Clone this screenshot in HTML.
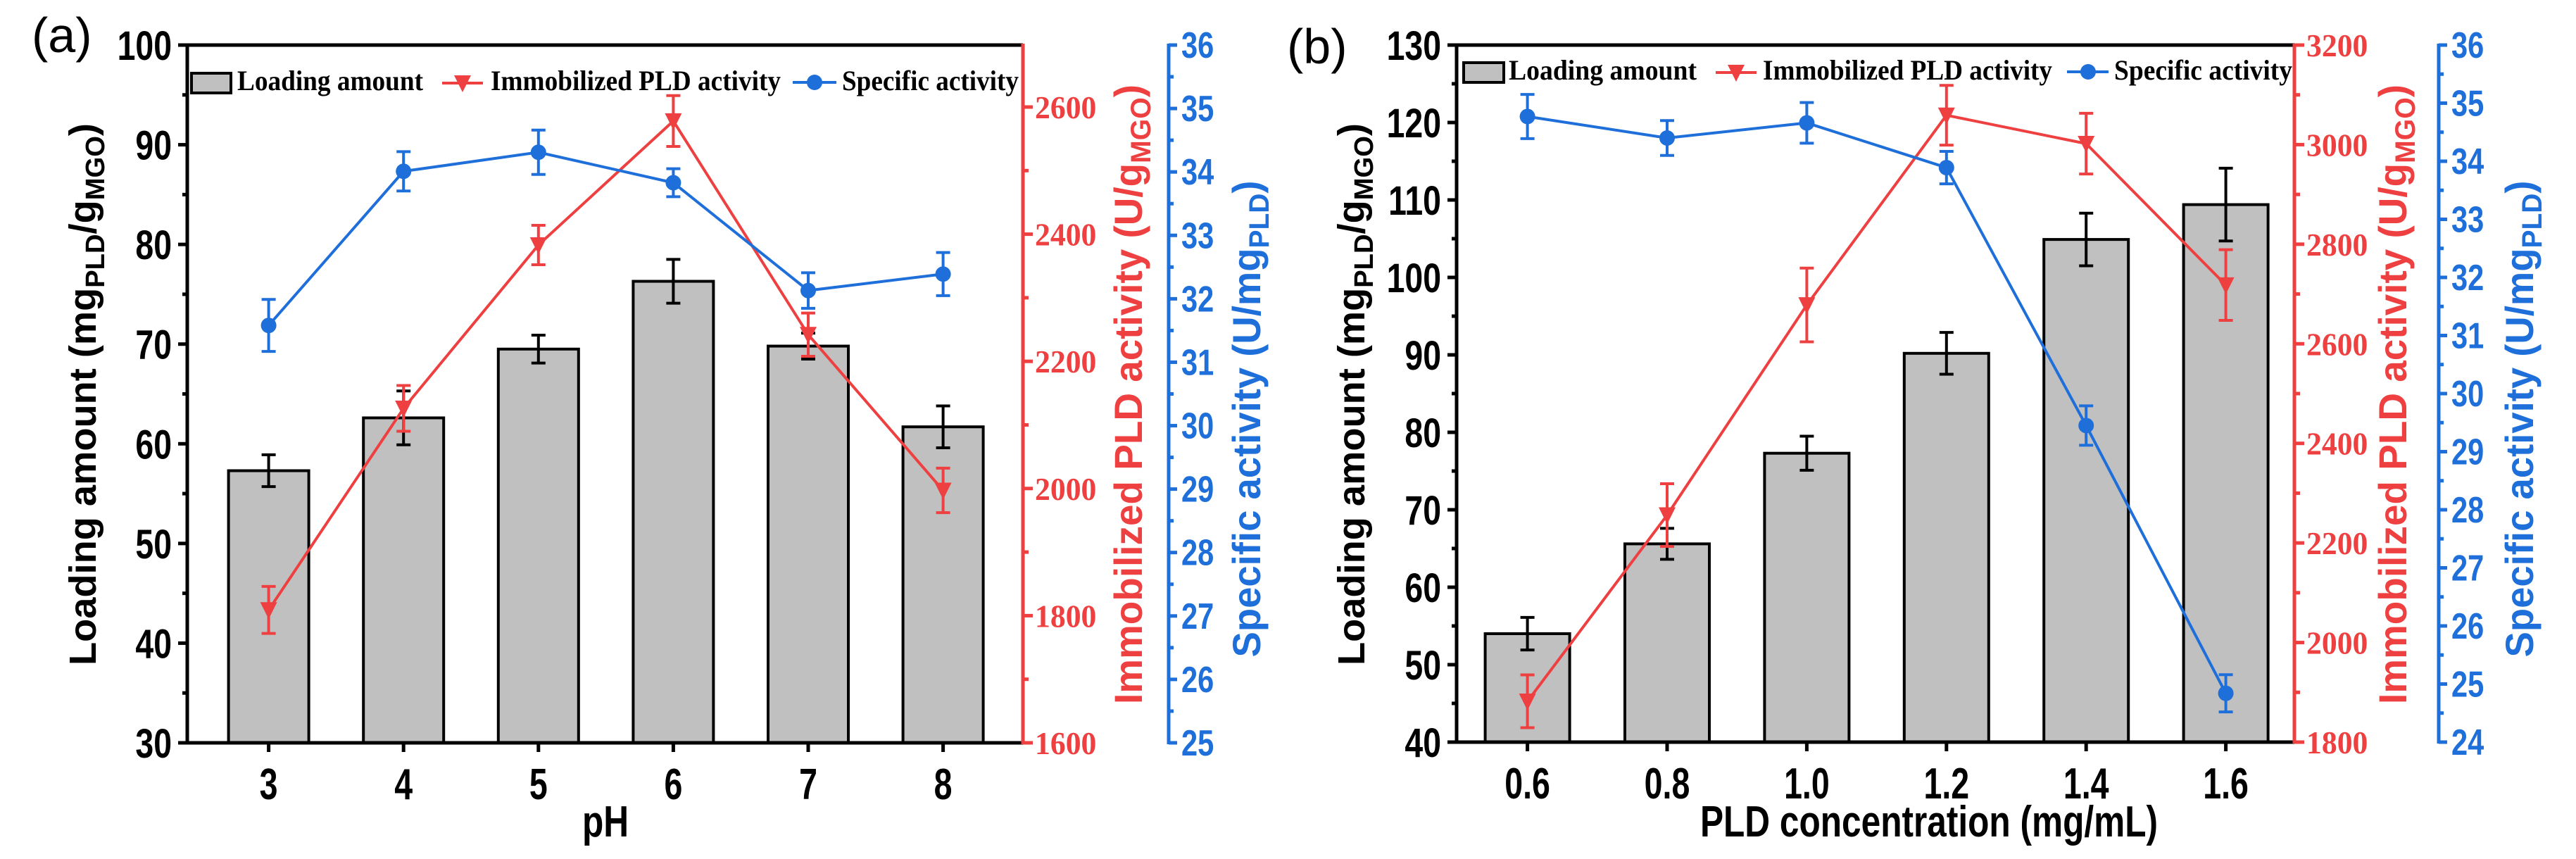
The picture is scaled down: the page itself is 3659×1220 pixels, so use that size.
<!DOCTYPE html>
<html><head><meta charset="utf-8"><style>
html,body{margin:0;padding:0;background:#fff;}
svg{display:block;}
</style></head><body>
<svg id="chart" xmlns="http://www.w3.org/2000/svg" width="3659" height="1220" viewBox="0 0 3659 1220"></svg>
<script>
// ---------- Panel (a) data ----------
const aCategories = ["3","4","5","6","7","8"];
const aLoading = [57.3, 62.6, 69.5, 76.3, 69.8, 61.7];
const aLoadingErr = [1.6, 2.7, 1.4, 2.2, 1.3, 2.1];
const aImmob = [1809, 2126, 2383, 2578, 2242, 1997];
const aImmobErr = [37, 36, 31, 40, 34, 35];
const aSpecific = [31.58, 34.01, 34.31, 33.83, 32.13, 32.39];
const aSpecificErr = [0.41, 0.31, 0.35, 0.22, 0.28, 0.34];
const aLeftTicks = [30,40,50,60,70,80,90,100];
const aRedTicks = [1600,1800,2000,2200,2400,2600];
const aBlueTicks = [25,26,27,28,29,30,31,32,33,34,35,36];
// ---------- Panel (b) data ----------
const bCategories = ["0.6","0.8","1.0","1.2","1.4","1.6"];
const bLoading = [54.0, 65.6, 77.3, 90.2, 104.9, 109.4];
const bLoadingErr = [2.1, 2.0, 2.2, 2.7, 3.4, 4.7];
const bImmob = [1882, 2256, 2678, 3059, 3002, 2718];
const bImmobErr = [53, 63, 74, 60, 61, 71];
const bSpecific = [34.77, 34.40, 34.66, 33.89, 29.45, 24.84];
const bSpecificErr = [0.38, 0.30, 0.35, 0.28, 0.34, 0.32];
const bLeftTicks = [40,50,60,70,80,90,100,110,120,130];
const bRedTicks = [1800,2000,2200,2400,2600,2800,3000,3200];
const bBlueTicks = [24,25,26,27,28,29,30,31,32,33,34,35,36];

const RED = "#EE4040", BLUE = "#1E6FD9";
const NS = "http://www.w3.org/2000/svg";
const svg = document.getElementById("chart");

function mk(tag, attrs, parent){
  const e = document.createElementNS(NS, tag);
  for (const k in attrs) e.setAttribute(k, attrs[k]);
  (parent||svg).appendChild(e);
  return e;
}
function ctext(parent, x, y, str, size, fill, family, anchor, sx){
  const g = mk("g", {transform:`translate(${x},${y}) scale(${sx},1)`}, parent);
  const t = mk("text", {x:0, y:0, "font-size":size, "font-weight":"bold", fill:fill, "font-family":family, "text-anchor":anchor}, g);
  t.textContent = str;
  return t;
}

function panel(cfg){
  const root = mk("g", {});
  
  
  const {L, R, B, T, blueX} = cfg;
  const yL = v => B - (v - cfg.leftMin)/(cfg.leftMax - cfg.leftMin)*(B - T);
  const yR = v => B - (v - cfg.redMin)/(cfg.redMax - cfg.redMin)*(B - cfg.redTop);
  const yB = v => B - (v - cfg.blueMin)/(cfg.blueMax - cfg.blueMin)*(B - T);
  const xC = i => cfg.x0 + i*cfg.dx;

  // bars
  const bars = mk("g", {}, root);
  
  
  cfg.loading.forEach((v,i)=>{
    const r = mk("rect", {x:xC(i)-cfg.bw/2, y:yL(v), width:cfg.bw, height:B-yL(v), fill:"#C0C0C0", stroke:"#000", "stroke-width":4}, bars);
    
    
    const e = cfg.loadingErr[i], x = xC(i);
    const eb = mk("path", {d:`M${x},${yL(v+e)}V${yL(v-e)}M${x-10},${yL(v+e)}H${x+10}M${x-10},${yL(v-e)}H${x+10}`, stroke:"#000", "stroke-width":4, fill:"none"}, bars);
    
    
  });

  // red series
  const red = mk("g", {}, root);
  
  
  const rl = mk("polyline", {points: cfg.immob.map((v,i)=>`${xC(i)},${yR(v)}`).join(" "), fill:"none", stroke:RED, "stroke-width":4}, red);
  
  
  cfg.immob.forEach((v,i)=>{
    const x = xC(i), e = cfg.immobErr[i];
    const eb = mk("path", {d:`M${x},${yR(v+e)}V${yR(v-e)}M${x-10},${yR(v+e)}H${x+10}M${x-10},${yR(v-e)}H${x+10}`, stroke:RED, "stroke-width":4, fill:"none"}, red);
    
    
    const y = yR(v);
    const m = mk("path", {d:`M${x-12},${y-11}L${x+12},${y-11}L${x},${y+13}Z`, fill:RED}, red);
    
    
  });

  // blue series
  const blue = mk("g", {}, root);
  
  
  const bl = mk("polyline", {points: cfg.spec.map((v,i)=>`${xC(i)},${yB(v)}`).join(" "), fill:"none", stroke:BLUE, "stroke-width":4}, blue);
  
  
  cfg.spec.forEach((v,i)=>{
    const x = xC(i), e = cfg.specErr[i];
    const eb = mk("path", {d:`M${x},${yB(v+e)}V${yB(v-e)}M${x-10},${yB(v+e)}H${x+10}M${x-10},${yB(v-e)}H${x+10}`, stroke:BLUE, "stroke-width":4, fill:"none"}, blue);
    
    
    const c = mk("circle", {cx:x, cy:yB(v), r:11, fill:BLUE}, blue);
    
    
  });

  // axes frame
  const ax = mk("g", {}, root);
  
  
  mk("path", {d:`M${L},${T}H${R}M${L-2},${B}H${R}M${L},${T-2}V${B+2}`, stroke:"#000", "stroke-width":5, fill:"none"}, ax);
  mk("line", {x1:R, y1:T-2, x2:R, y2:B+2, stroke:RED, "stroke-width":5}, ax);
  mk("line", {x1:blueX, y1:T-2, x2:blueX, y2:B+2, stroke:BLUE, "stroke-width":5}, ax);

  // left ticks
  const lt = mk("g", {}, root);
  
  
  cfg.leftTicks.forEach((v,i)=>{
    const y = yL(v);
    mk("line", {x1:L-13, y1:y, x2:L, y2:y, stroke:"#000", "stroke-width":5}, lt);
    ctext(lt, L-22, y+21, String(v), 58, "#000", "Liberation Sans", "end", 0.8);
    if (i < cfg.leftTicks.length-1){
      const ym = yL((v + cfg.leftTicks[i+1])/2);
      mk("line", {x1:L-7, y1:ym, x2:L, y2:ym, stroke:"#000", "stroke-width":5}, lt);
    }
  });
  // x ticks
  const xt = mk("g", {}, root);
  
  
  cfg.cats.forEach((c,i)=>{
    const x = xC(i);
    mk("line", {x1:x, y1:B, x2:x, y2:B+13, stroke:"#000", "stroke-width":5}, xt);
    ctext(xt, x, B+80, c, 62, "#000", "Liberation Sans", "middle", 0.75);
  });
  // red ticks
  const rt = mk("g", {}, root);
  
  
  cfg.redTicks.forEach((v,i)=>{
    const y = yR(v);
    mk("line", {x1:R, y1:y, x2:R+14, y2:y, stroke:RED, "stroke-width":5}, rt);
    ctext(rt, R+17, y+16, String(v), 46, RED, "Liberation Serif", "start", 0.95);
    if (i < cfg.redTicks.length-1){
      const ym = yR((v + cfg.redTicks[i+1])/2);
      mk("line", {x1:R, y1:ym, x2:R+8, y2:ym, stroke:RED, "stroke-width":5}, rt);
    }
  });
  // blue ticks
  const bt = mk("g", {}, root);
  
  
  cfg.blueTicks.forEach((v,i)=>{
    const y = yB(v);
    mk("line", {x1:blueX, y1:y, x2:blueX+12, y2:y, stroke:BLUE, "stroke-width":5}, bt);
    ctext(bt, blueX+18, y+18, String(v), 52, BLUE, "Liberation Sans", "start", 0.8);
    if (i < cfg.blueTicks.length-1){
      const ym = yB((v + cfg.blueTicks[i+1])/2);
      mk("line", {x1:blueX, y1:ym, x2:blueX+7, y2:ym, stroke:BLUE, "stroke-width":5}, bt);
    }
  });
  return root;
}

panel({name:"panel-a", L:266, R:1453, T:64, B:1055, blueX:1660, redTop:152,
  leftMin:30, leftMax:100, redMin:1600, redMax:2600, blueMin:25, blueMax:36,
  x0:381.6, dx:191.6, bw:114, cats:aCategories,
  loading:aLoading, loadingErr:aLoadingErr, immob:aImmob, immobErr:aImmobErr,
  spec:aSpecific, specErr:aSpecificErr,
  leftTicks:aLeftTicks, redTicks:aRedTicks, blueTicks:aBlueTicks});
panel({name:"panel-b", L:2069, R:3259, T:64, B:1054, blueX:3464, redTop:64,
  leftMin:40, leftMax:130, redMin:1800, redMax:3200, blueMin:24, blueMax:36,
  x0:2169.6, dx:198.4, bw:120, cats:bCategories,
  loading:bLoading, loadingErr:bLoadingErr, immob:bImmob, immobErr:bImmobErr,
  spec:bSpecific, specErr:bSpecificErr,
  leftTicks:bLeftTicks, redTicks:bRedTicks, blueTicks:bBlueTicks});
</script>
<svg style="position:absolute;left:0;top:0" width="3659" height="1220" viewBox="0 0 3659 1220">
  <!-- panel labels -->
  <text x="45" y="74" font-family="Liberation Sans, sans-serif" font-size="70">(a)</text>
  <text x="1828" y="90" font-family="Liberation Sans, sans-serif" font-size="70">(b)</text>

  <!-- legends -->
  <g font-family="Liberation Serif, serif" font-weight="bold" font-size="40">
    <rect x="272" y="104" width="56" height="28" fill="#C0C0C0" stroke="#000" stroke-width="4"/>
    <text x="337" y="128" textLength="264" lengthAdjust="spacingAndGlyphs">Loading amount</text>
    <line x1="628" y1="118" x2="686" y2="118" stroke="#EE4040" stroke-width="4"/>
    <path d="M645,107L669,107L657,131Z" fill="#EE4040"/>
    <text x="697" y="128" textLength="412" lengthAdjust="spacingAndGlyphs">Immobilized PLD activity</text>
    <line x1="1126" y1="117" x2="1188" y2="117" stroke="#1E6FD9" stroke-width="4"/>
    <circle cx="1157" cy="117" r="11" fill="#1E6FD9"/>
    <text x="1196" y="128" textLength="251" lengthAdjust="spacingAndGlyphs">Specific activity</text>
  </g>
  <g font-family="Liberation Serif, serif" font-weight="bold" font-size="40">
    <rect x="2079" y="89" width="57" height="28" fill="#C0C0C0" stroke="#000" stroke-width="4"/>
    <text x="2143" y="113" textLength="267" lengthAdjust="spacingAndGlyphs">Loading amount</text>
    <line x1="2437" y1="103" x2="2495" y2="103" stroke="#EE4040" stroke-width="4"/>
    <path d="M2454,92L2478,92L2466,116Z" fill="#EE4040"/>
    <text x="2504" y="113" textLength="411" lengthAdjust="spacingAndGlyphs">Immobilized PLD activity</text>
    <line x1="2936" y1="102" x2="2995" y2="102" stroke="#1E6FD9" stroke-width="4"/>
    <circle cx="2966" cy="102" r="11" fill="#1E6FD9"/>
    <text x="3003" y="113" textLength="253" lengthAdjust="spacingAndGlyphs">Specific activity</text>
  </g>

  <!-- axis titles -->
  <g font-family="Liberation Sans, sans-serif" font-weight="bold">
    <text x="860" y="1188" font-size="62" text-anchor="middle" transform="translate(860,0) scale(0.8,1) translate(-860,0)">pH</text>
    <text x="2740" y="1188" font-size="62" text-anchor="middle" transform="translate(2740,0) scale(0.8,1) translate(-2740,0)">PLD concentration (mg/mL)</text>

    <text transform="translate(136,560) rotate(-90)" text-anchor="middle" font-size="54" textLength="770" lengthAdjust="spacingAndGlyphs">Loading amount (mg<tspan font-size="38" dy="12">PLD</tspan><tspan dy="-12">/g</tspan><tspan font-size="38" dy="12">MGO</tspan><tspan dy="-12">)</tspan></text>
    <text transform="translate(1938,560) rotate(-90)" text-anchor="middle" font-size="54" textLength="770" lengthAdjust="spacingAndGlyphs">Loading amount (mg<tspan font-size="38" dy="12">PLD</tspan><tspan dy="-12">/g</tspan><tspan font-size="38" dy="12">MGO</tspan><tspan dy="-12">)</tspan></text>

    <text fill="#EE4040" transform="translate(1622,560) rotate(-90)" text-anchor="middle" font-size="56" textLength="880" lengthAdjust="spacingAndGlyphs">Immobilized PLD activity (U/g<tspan font-size="40" dy="12">MGO</tspan><tspan dy="-12">)</tspan></text>
    <text fill="#EE4040" transform="translate(3418,560) rotate(-90)" text-anchor="middle" font-size="56" textLength="880" lengthAdjust="spacingAndGlyphs">Immobilized PLD activity (U/g<tspan font-size="40" dy="12">MGO</tspan><tspan dy="-12">)</tspan></text>

    <text fill="#1E6FD9" transform="translate(1790,595) rotate(-90)" text-anchor="middle" font-size="56" textLength="677" lengthAdjust="spacingAndGlyphs">Specific activity (U/mg<tspan font-size="40" dy="12">PLD</tspan><tspan dy="-12">)</tspan></text>
    <text fill="#1E6FD9" transform="translate(3598,595) rotate(-90)" text-anchor="middle" font-size="56" textLength="677" lengthAdjust="spacingAndGlyphs">Specific activity (U/mg<tspan font-size="40" dy="12">PLD</tspan><tspan dy="-12">)</tspan></text>
  </g>
</svg>
</body></html>
